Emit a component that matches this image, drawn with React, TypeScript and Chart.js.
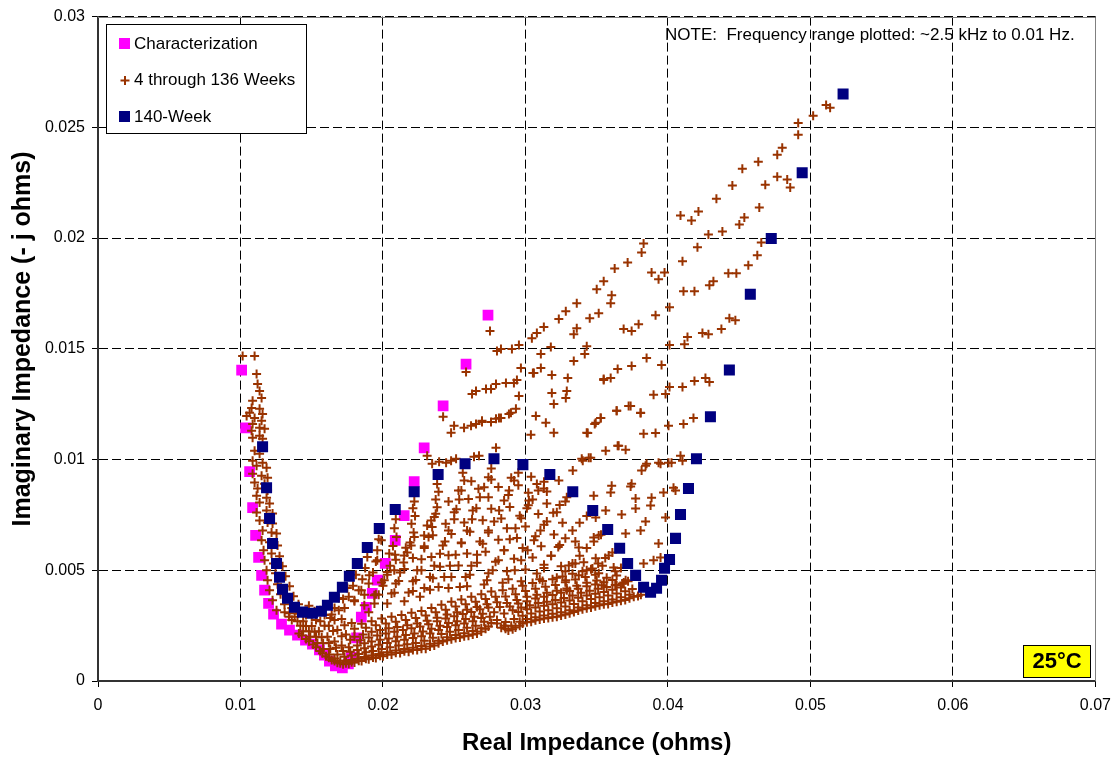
import { useEffect, useRef } from 'react';
import { Chart, registerables } from 'chart.js';

Chart.register(...registerables);

// Nyquist points in milliohms: [real, -imaginary]
const characterization: [number, number][] = [
  [10.08, 14.04], [10.36, 11.43], [10.64, 9.45], [10.85, 7.83], [11.06, 6.57], [11.27, 5.58],
  [11.48, 4.77], [11.69, 4.1], [11.97, 3.51], [12.32, 3.02], [12.88, 2.57], [13.44, 2.3],
  [14.0, 2.07], [14.56, 1.85], [15.05, 1.67], [15.54, 1.4], [15.89, 1.17], [16.24, 0.9],
  [16.66, 0.68], [17.15, 0.59], [17.57, 0.77], [17.78, 1.08], [18.15, 1.95], [18.48, 2.88],
  [18.83, 3.33], [19.25, 3.96], [19.6, 4.55], [20.16, 5.31], [20.86, 6.35], [21.49, 7.47],
  [22.19, 9.0], [22.89, 10.53], [24.22, 12.42], [25.83, 14.31], [27.37, 16.52],
];

const week140: [number, number][] = [
  [11.55, 10.58], [11.83, 8.73], [12.04, 7.34], [12.25, 6.21], [12.53, 5.31], [12.74, 4.68],
  [12.95, 4.14], [13.3, 3.74], [13.79, 3.33], [14.35, 3.11], [15.05, 3.06], [15.68, 3.15],
  [16.1, 3.42], [16.59, 3.78], [17.15, 4.23], [17.64, 4.73], [18.2, 5.31], [18.9, 6.03],
  [19.74, 6.89], [20.86, 7.74], [22.19, 8.55], [23.87, 9.32], [25.76, 9.81], [27.79, 10.04],
  [29.82, 9.77], [31.71, 9.32], [33.32, 8.55], [34.72, 7.7], [35.77, 6.84], [36.61, 5.99],
  [37.17, 5.31], [37.73, 4.77], [38.29, 4.23], [38.78, 4.01], [39.2, 4.19], [39.55, 4.55],
  [39.76, 5.09], [40.11, 5.49], [40.53, 6.44], [40.88, 7.52], [41.44, 8.69], [42.0, 10.04],
  [42.98, 11.93], [44.31, 14.04], [45.78, 17.46], [47.25, 19.98], [49.42, 22.95], [52.29, 26.51],
];

// 4 through 136 weeks: high-frequency branch
const weeksHighFreq: [number, number][] = [
  [10.15, 14.67], [10.99, 14.67], [11.13, 13.86], [11.2, 13.41], [11.34, 13.1], [10.85, 12.65],
  [11.48, 12.78], [10.78, 12.33], [11.34, 12.29], [10.64, 12.11], [11.55, 12.06], [10.43, 11.97],
  [10.99, 11.88], [11.48, 11.75], [10.85, 11.61], [11.34, 11.43], [10.78, 11.3], [11.69, 11.39],
  [10.85, 10.98], [11.34, 11.07], [11.55, 10.94], [10.99, 10.4], [11.34, 10.26], [10.85, 9.95],
  [11.55, 9.86], [11.13, 9.72], [11.83, 9.63], [10.85, 9.36], [11.48, 9.27], [11.9, 9.18],
  [10.99, 8.96], [11.69, 8.91], [11.2, 8.69], [11.9, 8.6], [11.13, 8.37], [11.83, 8.28],
  [11.34, 8.06], [12.04, 8.01], [11.13, 7.61], [11.83, 7.7], [12.25, 7.56], [11.34, 7.25],
  [11.9, 7.16], [12.25, 7.11], [11.55, 6.8], [12.18, 6.71], [12.53, 6.66], [11.48, 6.35],
  [12.04, 6.26], [12.6, 6.12], [11.62, 5.9], [12.18, 5.76], [12.74, 5.63], [11.69, 5.45],
  [12.32, 5.31], [12.95, 5.18], [11.83, 5.0], [12.46, 4.86], [13.16, 4.73], [11.9, 4.55],
  [12.6, 4.37], [13.44, 4.28], [12.04, 4.1], [12.81, 3.92], [13.72, 3.83], [12.25, 3.65],
  [13.09, 3.47], [14.07, 3.47], [12.53, 3.2], [13.44, 3.06],
];

// 4 through 136 weeks: dense band along the minimum
const weeksFloorBand: [number, number][] = [
  [14.1, 2.15], [14.6, 1.9], [15.1, 1.65], [15.6, 1.35], [16.0, 1.12], [16.4, 0.95], [16.8, 0.82],
  [17.2, 0.76], [17.6, 0.78], [18.0, 0.84], [18.5, 0.9], [19.0, 0.98], [19.5, 1.04], [20.0, 1.12],
  [20.6, 1.2], [21.2, 1.26], [21.8, 1.32], [22.4, 1.4], [23.0, 1.46], [23.6, 1.6], [24.2, 1.78],
  [24.8, 1.88], [25.4, 1.96], [26.0, 2.04], [26.6, 2.14], [27.2, 2.36], [27.6, 2.62], [28.3, 2.4],
  [28.8, 2.28], [29.3, 2.42], [29.8, 2.6], [30.4, 2.68], [31.0, 2.78], [31.6, 2.84], [32.2, 2.9],
  [32.8, 3.0], [33.4, 3.12], [34.0, 3.24], [34.6, 3.32], [35.2, 3.42], [35.8, 3.48], [36.4, 3.58],
  [37.0, 3.66], [37.6, 3.8], [38.1, 3.9],
  [14.3, 2.05], [14.8, 1.8], [15.3, 1.52], [15.75, 1.25], [16.2, 1.05], [16.6, 0.9], [17.0, 0.8],
  [17.4, 0.8], [17.8, 0.85], [18.3, 0.92], [18.8, 1.0], [19.3, 1.06], [19.8, 1.14], [20.3, 1.2],
  [20.9, 1.28], [21.5, 1.34], [22.1, 1.4], [22.7, 1.46], [23.3, 1.56], [23.9, 1.7], [24.5, 1.84],
  [25.1, 1.94], [25.7, 2.02], [26.3, 2.1], [26.9, 2.24], [27.4, 2.46], [28.0, 2.6], [28.6, 2.36],
  [29.1, 2.34], [29.6, 2.5], [30.1, 2.65], [30.7, 2.74], [31.3, 2.82], [31.9, 2.88], [32.5, 2.96],
  [33.1, 3.06], [33.7, 3.18], [34.3, 3.28], [34.9, 3.38], [35.5, 3.46], [36.1, 3.54], [36.7, 3.62],
  [37.3, 3.74], [37.9, 3.84],
  [14.4, 2.25], [14.9, 2.0], [15.4, 1.72], [15.8, 1.45], [16.2, 1.2], [16.6, 1.02], [17.0, 0.92],
  [17.4, 0.9], [17.8, 0.95], [18.2, 1.0], [18.7, 1.08], [19.2, 1.15], [19.7, 1.22], [20.3, 1.3],
  [20.9, 1.38], [21.5, 1.44], [22.1, 1.5], [22.7, 1.58], [23.3, 1.68], [23.9, 1.82], [24.5, 1.98],
  [25.1, 2.08], [25.7, 2.16], [26.3, 2.26], [26.9, 2.38], [28.5, 2.5], [29.0, 2.5], [29.6, 2.68],
  [30.1, 2.8], [30.7, 2.88], [31.3, 2.96], [31.9, 3.04], [32.5, 3.1], [33.1, 3.2], [33.7, 3.32],
  [34.3, 3.42], [34.9, 3.52], [35.5, 3.6], [36.1, 3.68], [36.7, 3.78], [37.3, 3.9],
  [13.6, 2.75], [14.2, 2.5], [14.8, 2.25], [15.3, 2.0], [15.8, 1.7], [16.3, 1.45], [16.8, 1.2],
  [17.3, 1.1], [17.8, 1.15], [18.3, 1.22], [18.8, 1.3], [19.3, 1.35], [19.9, 1.45], [20.5, 1.52],
  [21.1, 1.6], [21.7, 1.66], [22.3, 1.72], [22.9, 1.82], [23.5, 1.95], [24.1, 2.12], [24.7, 2.22],
  [25.3, 2.3], [25.9, 2.4], [26.5, 2.5], [27.1, 2.68], [28.0, 2.75], [28.6, 2.66], [29.2, 2.8],
  [29.8, 2.95], [30.4, 3.05], [31.0, 3.14], [31.6, 3.2], [32.2, 3.28], [32.8, 3.36], [33.4, 3.48],
  [34.0, 3.6], [34.6, 3.7], [35.2, 3.78], [35.8, 3.86], [36.4, 3.95], [37.0, 4.05], [37.5, 4.15],
  [13.4, 2.9], [14.0, 2.7], [14.6, 2.48], [15.2, 2.22], [15.7, 1.98], [16.2, 1.72], [16.7, 1.5],
  [17.2, 1.35], [17.7, 1.32], [18.2, 1.4], [18.7, 1.48], [19.2, 1.56], [19.7, 1.64], [20.3, 1.72],
  [20.9, 1.8], [21.5, 1.86], [22.1, 1.94], [22.7, 2.02], [23.3, 2.14], [23.9, 2.3], [24.5, 2.44],
  [25.1, 2.52], [25.7, 2.6], [26.3, 2.7], [26.9, 2.84], [27.5, 2.9], [29.5, 3.12], [30.1, 3.24],
  [30.7, 3.32], [31.3, 3.4], [31.9, 3.46], [32.5, 3.54], [33.1, 3.64], [33.7, 3.76], [34.3, 3.86],
  [34.9, 3.94], [35.5, 4.02], [36.1, 4.12], [36.7, 4.22],
  [13.1, 3.1], [13.8, 2.9], [14.4, 2.7], [15.0, 2.48], [15.5, 2.25], [16.1, 2.0], [16.6, 1.78],
  [17.1, 1.6], [17.6, 1.52], [18.2, 1.6], [18.7, 1.7], [19.2, 1.78], [19.8, 1.86], [20.4, 1.92],
  [21.0, 2.0], [21.6, 2.08], [22.2, 2.14], [22.8, 2.24], [23.4, 2.36], [24.0, 2.5], [24.6, 2.62],
  [25.2, 2.7], [25.8, 2.8], [26.4, 2.9], [27.0, 3.04], [27.8, 3.1], [28.5, 3.05], [29.1, 3.2],
  [29.7, 3.32], [30.3, 3.42], [30.9, 3.52], [31.5, 3.58], [32.1, 3.66], [32.7, 3.75], [33.3, 3.86],
  [33.9, 3.98], [34.5, 4.08], [35.1, 4.16], [35.7, 4.25], [36.3, 4.34], [36.9, 4.45],
  [13.9, 3.2], [14.6, 2.98], [15.3, 2.75], [15.9, 2.5], [16.5, 2.26], [17.1, 2.02], [17.7, 1.86],
  [18.4, 1.84], [19.0, 1.96], [19.6, 2.06], [20.2, 2.14], [20.8, 2.22], [21.4, 2.3], [22.0, 2.38],
  [22.6, 2.46], [23.2, 2.56], [23.8, 2.7], [24.4, 2.82], [25.0, 2.92], [25.6, 3.02], [26.2, 3.12],
  [26.8, 3.24], [27.4, 3.32], [28.2, 3.34], [28.9, 3.36], [29.5, 3.5], [30.1, 3.6], [30.7, 3.72],
  [31.3, 3.8], [31.9, 3.88], [32.5, 3.98], [33.1, 4.06], [33.7, 4.16], [34.3, 4.28], [34.9, 4.36],
  [35.5, 4.46], [36.1, 4.56],
  [13.6, 3.3], [14.3, 3.1], [15.0, 2.9], [15.6, 2.7], [16.2, 2.5], [16.8, 2.3], [17.4, 2.1],
  [18.0, 2.0], [18.6, 2.1], [19.2, 2.22], [19.8, 2.3], [20.4, 2.38], [21.0, 2.44], [21.7, 2.52],
  [22.4, 2.6], [23.1, 2.72], [23.8, 2.86], [24.5, 3.0], [25.2, 3.1], [25.9, 3.22], [26.6, 3.34],
  [27.3, 3.46], [28.0, 3.56], [28.7, 3.52], [29.4, 3.66], [30.1, 3.8], [30.8, 3.9], [31.5, 3.98],
  [32.2, 4.08], [32.9, 4.18], [33.6, 4.3], [34.3, 4.44], [35.0, 4.54], [35.7, 4.66], [36.4, 4.76],
  [15.2, 3.15], [15.9, 2.98], [16.6, 2.75], [17.3, 2.52], [18.0, 2.36], [18.8, 2.4], [19.5, 2.52],
  [20.2, 2.6], [20.9, 2.68], [21.6, 2.76], [22.3, 2.84], [23.0, 2.96], [23.7, 3.1], [24.4, 3.22],
  [25.1, 3.36], [25.8, 3.46], [26.5, 3.58], [27.2, 3.7], [27.9, 3.8], [28.6, 3.82], [29.3, 3.92],
  [30.0, 4.06], [30.7, 4.16], [31.4, 4.26], [32.1, 4.34], [32.8, 4.46], [33.5, 4.58], [34.2, 4.7],
  [34.9, 4.8],
  [14.8, 3.4], [15.6, 3.2], [16.4, 3.0], [17.1, 2.8], [17.8, 2.62], [18.5, 2.58], [19.2, 2.7],
  [19.9, 2.82], [20.6, 2.9], [21.3, 2.98], [22.0, 3.08], [22.7, 3.16], [23.4, 3.3], [24.1, 3.44],
  [24.8, 3.58], [25.5, 3.68], [26.2, 3.8], [26.9, 3.92], [27.6, 4.04], [28.4, 4.1], [29.1, 4.16],
  [29.8, 4.3], [30.5, 4.42], [31.2, 4.52], [31.9, 4.6], [32.6, 4.72], [33.3, 4.84], [34.0, 4.96],
  [34.7, 5.08], [35.4, 5.2],
];

// 4 through 136 weeks: mid-frequency arc region
const weeksMidFan: [number, number][] = [
  [17.3, 3.3], [17.6, 3.8], [17.9, 4.3], [18.1, 4.8], [16.9, 3.2], [17.2, 3.7], [17.5, 4.2],
  [16.3, 2.85], [16.6, 3.3], [16.9, 3.75], [18.0, 3.6], [18.3, 4.1], [18.55, 4.6], [18.75, 5.1],
  [18.9, 5.6], [18.7, 3.9], [19.0, 4.4], [19.3, 4.9], [19.5, 5.4], [19.6, 5.9], [19.7, 6.4],
  [19.0, 3.1], [19.4, 3.5], [19.7, 3.9], [20.0, 4.3], [20.3, 4.8], [20.5, 5.2], [20.85, 5.7],
  [20.7, 6.1], [20.95, 6.5], [20.8, 6.9], [20.9, 7.3],
  [20.3, 3.5], [20.6, 3.95], [20.9, 4.4], [21.2, 4.9], [21.45, 5.35], [21.7, 5.8], [21.9, 6.25],
  [22.15, 6.7], [22.0, 7.1], [22.25, 7.45], [22.1, 7.8], [22.2, 8.1],
  [21.5, 3.6], [21.8, 4.0], [22.1, 4.5], [22.4, 5.0], [22.7, 5.5], [22.9, 6.0], [23.2, 6.5],
  [23.45, 6.95], [23.6, 7.4], [23.8, 7.85], [23.7, 8.2], [23.9, 8.55], [23.8, 8.9],
  [22.6, 3.8], [22.9, 4.2], [23.3, 4.7], [23.6, 5.2], [24.0, 5.75], [24.35, 6.3], [24.6, 6.8],
  [25.0, 7.3], [25.15, 7.75], [25.35, 8.2], [25.5, 8.6], [25.7, 9.05], [25.6, 9.4],
  [23.9, 4.25], [24.3, 4.7], [24.7, 5.2], [25.1, 5.7], [25.5, 6.25], [25.9, 6.8], [26.25, 7.3],
  [26.55, 7.8], [26.8, 8.3], [27.1, 8.75], [27.4, 9.2], [27.6, 9.6],
  [25.4, 4.25], [25.8, 4.7], [26.2, 5.2], [26.6, 5.7], [27.0, 6.2], [27.4, 6.7], [27.8, 7.2],
  [28.15, 7.7], [28.5, 8.15], [28.85, 8.6], [29.2, 9.05], [29.5, 9.4],
  [27.3, 4.55], [27.7, 5.0], [28.1, 5.45], [28.5, 5.9], [28.9, 6.4], [29.3, 6.9], [29.7, 7.35],
  [30.1, 7.8], [30.5, 8.2], [30.9, 8.6], [31.3, 9.0],
  [28.8, 4.6], [29.25, 5.0], [29.7, 5.45], [30.15, 5.9], [30.6, 6.35], [31.05, 6.8], [31.5, 7.2],
  [31.95, 7.6], [32.4, 7.95], [32.9, 8.3],
  [30.8, 4.85], [31.3, 5.25], [31.8, 5.65], [32.3, 6.05], [32.8, 6.45], [33.3, 6.8], [33.8, 7.15],
  [34.3, 7.45], [32.8, 4.95], [33.3, 5.3], [33.8, 5.65], [34.3, 6.0], [34.8, 6.3], [35.3, 6.6],
  [34.6, 5.05], [35.1, 5.3], [35.6, 5.55], [36.1, 5.8], [36.7, 5.1], [36.3, 4.95], [37.2, 4.5],
  [36.8, 4.4],
  [19.5, 3.92], [20.8, 3.98], [22.1, 4.06], [23.3, 4.12], [24.6, 4.2], [25.9, 4.28], [27.1, 4.36],
  [28.4, 4.44], [29.7, 4.5], [31.0, 4.6], [32.2, 4.66],
  [19.9, 4.45], [21.1, 4.52], [22.3, 4.56], [23.5, 4.64], [24.8, 4.7], [26.1, 4.8], [27.4, 4.86],
  [28.7, 4.96], [30.0, 5.04], [31.3, 5.1], [32.5, 5.18], [33.5, 5.3],
  [20.3, 4.92], [21.5, 5.06], [22.7, 5.0], [24.0, 5.16], [25.3, 5.22], [26.6, 5.34], [27.9, 5.38],
  [29.2, 5.52], [30.5, 5.58], [31.8, 5.66],
  [20.9, 5.48], [22.1, 5.55], [23.4, 5.6], [24.6, 5.68], [25.9, 5.76], [27.2, 5.84], [28.5, 5.9],
  [29.8, 6.0], [31.1, 6.08], [32.4, 6.14], [33.5, 6.3],
  [21.6, 6.02], [22.9, 6.08], [24.2, 6.12], [25.5, 6.22], [26.8, 6.3], [28.1, 6.38], [29.4, 6.46],
  [30.7, 6.54], [32.0, 6.62],
  [22.2, 6.5], [23.5, 6.58], [24.8, 6.64], [26.1, 6.74], [27.4, 6.8], [28.7, 6.9], [30.0, 6.98],
  [31.3, 7.06], [32.6, 7.14],
  [23.1, 7.02], [24.4, 7.1], [25.7, 7.16], [27.0, 7.26], [28.3, 7.34], [29.6, 7.46], [30.9, 7.54],
  [32.2, 7.62],
  [23.7, 7.55], [25.0, 7.62], [26.3, 7.7], [27.6, 7.78], [28.9, 7.86], [30.2, 7.94], [31.5, 8.02],
  [32.8, 8.1],
  [24.6, 8.1], [26.0, 8.22], [27.4, 8.3], [28.8, 8.4], [30.2, 8.5], [31.5, 8.56],
  [25.3, 8.6], [26.7, 8.68], [28.1, 8.76], [29.5, 8.84], [30.8, 8.9],
  [26.2, 9.02], [27.6, 9.1], [29.0, 9.18], [30.4, 9.22],
  [19.88, 6.35], [20.44, 5.76], [19.6, 5.45], [19.04, 4.77], [18.48, 4.1], [17.99, 3.65],
  [18.69, 3.42], [19.39, 3.87], [20.09, 4.55], [20.79, 5.0], [21.49, 5.67], [21.98, 6.12],
  [22.89, 6.57], [23.38, 7.25],
];

// 4 through 136 weeks: right side of the arc, toward the 140-week dip
const weeksRightMesh: [number, number][] = [
  [40.04, 11.52], [41.09, 11.61], [41.79, 11.88], [39.13, 11.2], [38.29, 11.16], [37.24, 12.42],
  [36.4, 12.2], [38.08, 12.1], [35.28, 11.88], [34.86, 11.61], [34.37, 11.2], [35.63, 10.4],
  [37.03, 10.44], [36.54, 10.62], [34.02, 9.95], [34.58, 10.08], [33.32, 9.5], [36.05, 8.82],
  [37.38, 8.78], [37.73, 7.79], [38.85, 8.28], [38.78, 7.92], [39.83, 7.38], [40.39, 8.73],
  [40.53, 8.6], [39.34, 9.86], [38.5, 9.81], [38.15, 9.5], [40.25, 9.86], [41.02, 9.95],
  [36.75, 7.52], [34.93, 7.38], [35.63, 7.7], [38.43, 7.2], [38.08, 6.8], [37.03, 6.66],
  [39.34, 6.21], [38.99, 5.45], [38.29, 5.31], [39.48, 5.58], [34.79, 6.48], [35.14, 6.57],
  [33.74, 6.03], [33.04, 5.22], [34.09, 5.36], [34.93, 5.54], [35.84, 5.67], [36.19, 5.13],
  [35.14, 4.86], [34.3, 5.0], [37.03, 4.55], [36.4, 4.32], [35.35, 4.32], [33.74, 4.77],
  [32.83, 4.55], [32.9, 4.1],
  [33.95, 10.04], [34.44, 10.08], [36.47, 10.62], [38.43, 9.72], [39.48, 9.81], [40.04, 9.86],
  [40.88, 10.17], [39.69, 8.51], [37.73, 8.24], [37.45, 8.91], [35.98, 8.51], [34.79, 8.37],
  [32.34, 9.05], [31.29, 8.69], [30.24, 8.15],
];

// 4 through 136 weeks: low-frequency tails
const weeksUpperTails: [number, number][] = [
  [27.51, 15.8], [28.0, 14.9], [28.28, 14.99], [29.05, 14.99], [29.54, 15.17], [30.45, 15.48],
  [30.8, 15.71], [31.29, 15.98], [32.34, 16.34], [32.83, 16.7], [33.6, 17.06], [35.0, 17.69],
  [35.49, 18.05], [36.26, 18.63], [37.17, 18.9], [38.15, 19.35], [38.29, 19.76], [40.88, 21.02],
  [41.65, 20.79], [42.14, 21.2], [43.4, 21.78], [44.52, 22.37], [45.22, 23.13], [46.34, 23.45],
  [47.67, 23.76], [48.02, 24.08], [49.14, 24.66], [49.14, 25.2], [50.19, 25.52], [51.1, 26.01],
  [51.38, 25.88],
  [25.83, 13.95], [26.25, 12.96], [26.53, 13.1], [27.23, 13.19], [27.58, 13.19], [27.93, 13.41],
  [28.63, 13.46], [29.19, 13.46], [29.4, 13.59], [31.08, 14.76], [31.78, 15.08], [33.39, 15.66],
  [33.6, 15.93], [34.51, 16.38], [35.14, 16.61], [35.98, 17.06], [36.05, 17.42], [38.85, 18.45],
  [39.34, 18.14], [39.76, 18.45], [41.02, 18.95], [42.07, 19.58], [42.84, 20.16], [43.82, 20.3],
  [45.01, 20.61], [45.36, 20.93], [46.41, 21.38], [46.83, 22.41], [47.67, 22.77], [48.37, 22.64],
  [48.58, 22.28],
  [24.22, 11.93], [24.78, 11.21], [24.99, 11.52], [25.69, 11.43], [26.18, 11.52], [26.53, 11.61],
  [26.95, 11.7], [27.58, 11.7], [27.93, 11.84], [28.28, 11.88], [28.98, 12.11], [29.33, 12.29],
  [29.68, 14.13], [30.59, 13.91], [31.85, 13.82], [32.97, 13.68], [33.39, 14.45], [34.16, 14.76],
  [34.3, 15.12], [36.89, 15.89], [37.45, 15.8], [37.94, 16.11], [39.13, 16.52], [40.11, 16.88],
  [41.09, 17.6], [41.86, 17.6], [42.91, 17.87], [43.19, 18.05], [44.24, 18.41], [44.8, 18.41],
  [45.64, 18.77], [46.27, 19.22], [46.55, 19.8],
  [23.1, 10.17], [23.45, 9.81], [23.94, 9.9], [24.43, 9.86], [24.78, 9.95], [25.13, 10.04],
  [26.39, 10.13], [26.74, 10.17], [27.93, 10.53], [30.38, 11.12], [31.43, 11.66], [31.99, 11.21],
  [34.3, 11.21], [34.93, 11.66], [35.28, 11.88], [35.49, 13.64], [35.98, 13.68], [36.47, 14.09],
  [37.45, 14.22], [38.5, 14.58], [39.55, 14.27], [40.11, 15.17], [41.16, 15.21], [41.37, 15.53],
  [42.42, 15.71], [42.84, 15.66], [43.75, 15.89], [44.31, 16.38], [44.73, 16.29],
  [36.4, 12.2], [37.38, 12.42], [38.08, 12.11], [38.99, 12.92], [39.83, 12.96], [40.11, 13.28],
  [41.02, 13.28], [41.86, 13.55], [42.63, 13.68], [42.91, 13.5],
  [26.95, 11.75], [28.14, 11.88], [28.84, 12.06], [29.54, 12.87], [30.73, 11.97], [31.85, 13.0],
  [32.9, 13.1], [31.99, 12.51], [32.83, 12.78], [30.52, 13.91], [31.08, 14.13], [35.49, 13.59],
];

const X_TICKS = [0, 0.01, 0.02, 0.03, 0.04, 0.05, 0.06, 0.07];
const Y_TICKS = [0, 0.005, 0.01, 0.015, 0.02, 0.025, 0.03];

const MAGENTA = '#FF00FF';
const BROWN = '#993300';
const NAVY = '#000080';
const FONT = 'Liberation Sans, Arial, Helvetica, sans-serif';

const toOhms = (pts: [number, number][]) => pts.map(([re, im]) => ({ x: re / 1000, y: im / 1000 }));
const fmt = (v: number) => String(Number(Number(v).toFixed(4)));

const decorations = {
  id: 'decorations',
  beforeDatasetsDraw(chart: any) {
    const { ctx, chartArea: a } = chart;
    ctx.save();
    ctx.strokeStyle = '#808080';
    ctx.lineWidth = 1;
    ctx.setLineDash([]);
    ctx.beginPath();
    ctx.moveTo(a.left, Math.round(a.top) + 0.5);
    ctx.lineTo(Math.round(a.right) + 0.5, Math.round(a.top) + 0.5);
    ctx.lineTo(Math.round(a.right) + 0.5, a.bottom);
    ctx.stroke();
    ctx.restore();
  },
  afterDraw(chart: any) {
    const { ctx, chartArea: a } = chart;
    ctx.save();
    // legend box
    ctx.fillStyle = '#fff';
    ctx.fillRect(106, 24, 201, 110);
    ctx.strokeStyle = '#000';
    ctx.lineWidth = 1;
    ctx.strokeRect(106.5, 24.5, 200, 109);
    ctx.font = `17px ${FONT}`;
    ctx.textBaseline = 'middle';
    ctx.textAlign = 'left';
    ctx.fillStyle = MAGENTA;
    ctx.fillRect(119, 38, 11, 11);
    ctx.fillStyle = NAVY;
    ctx.fillRect(119, 111, 11, 11);
    ctx.strokeStyle = BROWN;
    ctx.lineWidth = 2;
    ctx.beginPath();
    ctx.moveTo(120.5, 80.5);
    ctx.lineTo(129.5, 80.5);
    ctx.moveTo(125, 76);
    ctx.lineTo(125, 85);
    ctx.stroke();
    ctx.fillStyle = '#000';
    ctx.fillText('Characterization', 134, 44);
    ctx.fillText('4 through 136 Weeks', 134, 80);
    ctx.fillText('140-Week', 134, 117);

    // note
    ctx.font = `17px ${FONT}`;
    ctx.fillText('NOTE:  Frequency range plotted: ~2.5 kHz to 0.01 Hz.', 665, 35);

    // temperature badge
    ctx.fillStyle = '#FFFF00';
    ctx.fillRect(1023, 645, 67, 32);
    ctx.strokeStyle = '#000';
    ctx.lineWidth = 1;
    ctx.strokeRect(1023.5, 645.5, 67, 32);
    ctx.fillStyle = '#000';
    ctx.font = `bold 22px ${FONT}`;
    ctx.textAlign = 'center';
    ctx.fillText('25°C', 1057, 662);

    // axis titles
    ctx.textBaseline = 'alphabetic';
    ctx.font = `bold 24px ${FONT}`;
    ctx.fillText('Real Impedance (ohms)', (a.left + a.right) / 2, 750);
    ctx.font = `bold 25px ${FONT}`;
    ctx.translate(30, 339);
    ctx.rotate(-Math.PI / 2);
    ctx.fillText('Imaginary Impedance (- j ohms)', 0, 0);
    ctx.restore();
  },
};

export default function App() {
  const canvasRef = useRef<HTMLCanvasElement | null>(null);

  useEffect(() => {
    const canvas = canvasRef.current;
    if (!canvas) return;
    const tickFont = { family: FONT, size: 16 };
    const chart = new Chart(canvas, {
      type: 'scatter',
      data: {
        datasets: [
          {
            label: 'Characterization',
            data: toOhms(characterization),
            pointStyle: 'rect',
            pointRadius: 7.6,
            backgroundColor: MAGENTA,
            borderColor: MAGENTA,
            borderWidth: 0,
            order: 2,
          },
          {
            label: '4 through 136 Weeks',
            data: toOhms([
              ...weeksHighFreq,
              ...weeksFloorBand,
              ...weeksMidFan,
              ...weeksRightMesh,
              ...weeksUpperTails,
            ]),
            pointStyle: 'cross',
            pointRadius: 4.5,
            borderColor: BROWN,
            backgroundColor: BROWN,
            borderWidth: 2,
            order: 1,
          },
          {
            label: '140-Week',
            data: toOhms(week140),
            pointStyle: 'rect',
            pointRadius: 7.8,
            backgroundColor: NAVY,
            borderColor: NAVY,
            borderWidth: 0,
            order: 0,
          },
        ],
      },
      options: {
        responsive: false,
        animation: false,
        devicePixelRatio: 1,
        events: [],
        layout: { padding: { top: 14, right: 22, left: 0, bottom: 0 } },
        plugins: { legend: { display: false }, tooltip: { enabled: false } },
        scales: {
          x: {
            type: 'linear',
            min: X_TICKS[0],
            max: X_TICKS[X_TICKS.length - 1],
            afterFit: (s: any) => { s.height = 78; },
            afterBuildTicks: (s: any) => { s.ticks = X_TICKS.map((v) => ({ value: v })); },
            ticks: { color: '#000', font: tickFont, padding: 9, maxRotation: 0, autoSkip: false, callback: (v: any) => fmt(v) },
            grid: { color: '#000', lineWidth: 1, tickLength: 6, tickColor: '#000', tickWidth: 1 },
            border: { display: true, color: '#333', width: 2, dash: [9, 4] },
          },
          y: {
            type: 'linear',
            min: Y_TICKS[0],
            max: Y_TICKS[Y_TICKS.length - 1],
            afterFit: (s: any) => { s.width = 98; },
            afterBuildTicks: (s: any) => { s.ticks = Y_TICKS.map((v) => ({ value: v })); },
            ticks: { color: '#000', font: tickFont, padding: 7, autoSkip: false, callback: (v: any) => fmt(v) },
            grid: { color: '#000', lineWidth: 1, tickLength: 6, tickColor: '#000', tickWidth: 1 },
            border: { display: true, color: '#333', width: 2, dash: [9, 4] },
          },
        },
      },
      plugins: [decorations],
    } as any);
    return () => chart.destroy();
  }, []);

  return (
    <div style={{ position: 'fixed', left: 0, top: 0, width: 1120, height: 759, background: '#fff' }}>
      <canvas ref={canvasRef} width={1120} height={759} style={{ display: 'block' }} />
    </div>
  );
}
